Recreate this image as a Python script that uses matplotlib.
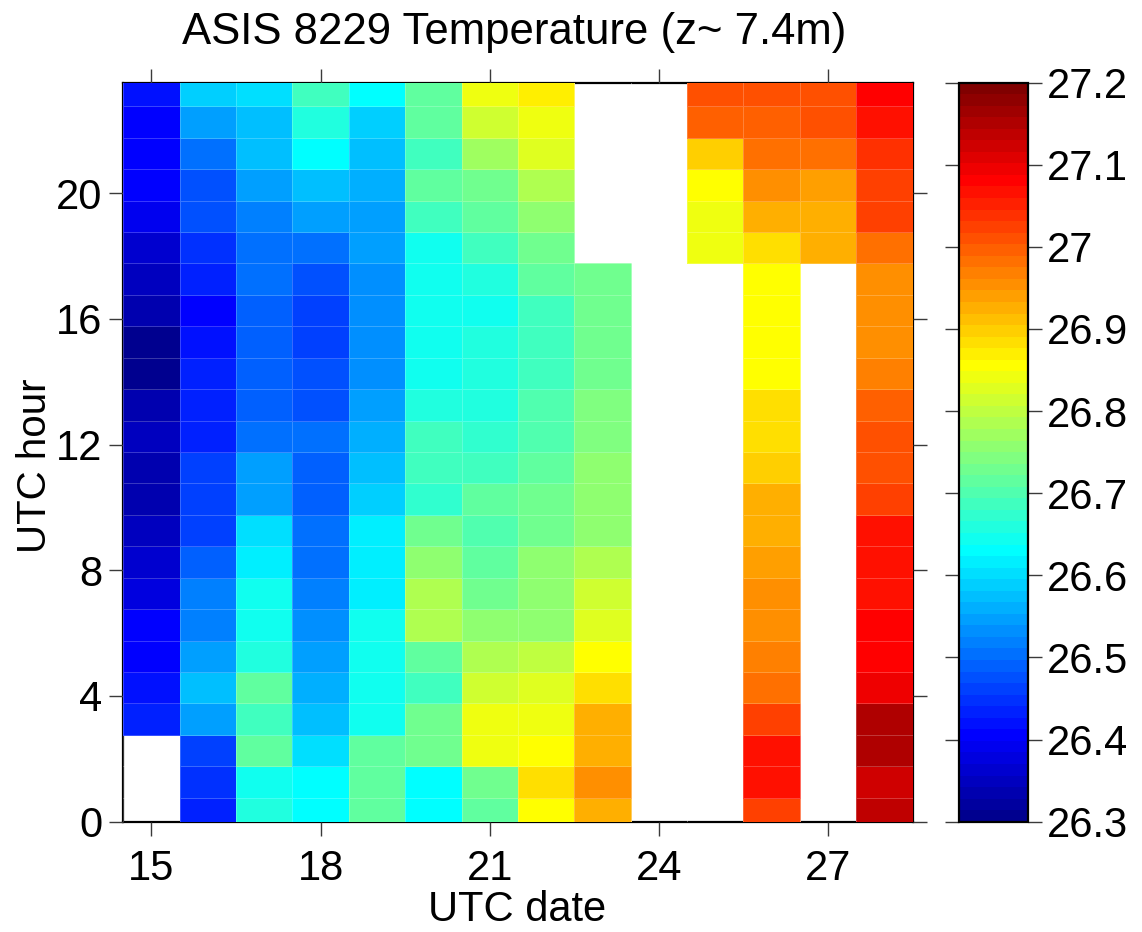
import numpy as np
import matplotlib
matplotlib.use("Agg")
import matplotlib.pyplot as plt
from matplotlib.colors import ListedColormap
from matplotlib.ticker import FuncFormatter

plt.rcParams['font.family'] = ['Liberation Sans', 'DejaVu Sans']

nan = np.nan
days = [15, 16, 17, 18, 19, 20, 21, 22, 23, 24, 25, 26, 27, 28]
hours = [h + 0.265 for h in range(24)]  # cell centres (hour 0..23)

# temperature per day, hour 0 .. 23
day15 = [nan, nan, nan, 26.43, 26.42, 26.41, 26.40, 26.38, 26.37, 26.345, 26.335, 26.34,
         26.35, 26.33, 26.30, 26.31, 26.33, 26.355, 26.365, 26.385, 26.40, 26.40, 26.41, 26.42]
day16 = [26.43, 26.45, 26.46, 26.55, 26.58, 26.55, 26.52, 26.52, 26.49, 26.46, 26.46, 26.46,
         26.44, 26.44, 26.43, 26.425, 26.41, 26.44, 26.45, 26.47, 26.48, 26.50, 26.54, 26.59]
day17 = [26.66, 26.64, 26.72, 26.69, 26.71, 26.66, 26.65, 26.64, 26.61, 26.60, 26.55, 26.54,
         26.51, 26.49, 26.49, 26.49, 26.49, 26.51, 26.51, 26.52, 26.54, 26.57, 26.58, 26.60]
day18 = [26.625, 26.625, 26.60, 26.58, 26.56, 26.55, 26.53, 26.52, 26.50, 26.50, 26.49, 26.49,
         26.50, 26.48, 26.48, 26.46, 26.46, 26.48, 26.50, 26.54, 26.58, 26.625, 26.66, 26.69]
day19 = [26.71, 26.72, 26.71, 26.65, 26.65, 26.65, 26.64, 26.62, 26.61, 26.61, 26.595, 26.58,
         26.56, 26.54, 26.53, 26.53, 26.53, 26.53, 26.545, 26.54, 26.56, 26.58, 26.595, 26.625]
day20 = [26.625, 26.625, 26.73, 26.73, 26.69, 26.72, 26.78, 26.78, 26.75, 26.73, 26.67, 26.69,
         26.68, 26.66, 26.65, 26.64, 26.64, 26.65, 26.65, 26.68, 26.71, 26.69, 26.71, 26.71]
day21 = [26.72, 26.73, 26.84, 26.84, 26.81, 26.78, 26.75, 26.73, 26.72, 26.70, 26.71, 26.68,
         26.67, 26.66, 26.66, 26.66, 26.65, 26.66, 26.69, 26.72, 26.73, 26.77, 26.81, 26.84]
day22 = [26.86, 26.88, 26.86, 26.84, 26.83, 26.80, 26.76, 26.76, 26.75, 26.73, 26.73, 26.72,
         26.70, 26.70, 26.69, 26.69, 26.69, 26.71, 26.73, 26.75, 26.78, 26.83, 26.84, 26.875]
day23 = [26.92, 26.95, 26.93, 26.92, 26.89, 26.86, 26.83, 26.81, 26.79, 26.76, 26.76, 26.76,
         26.74, 26.74, 26.73, 26.73, 26.73, 26.73, nan, nan, nan, nan, nan, nan]
day24 = [nan] * 24
day25 = [nan] * 18 + [26.845, 26.845, 26.86, 26.90, 26.99, 27.01]
day26 = [27.03, 27.06, 27.06, 27.03, 26.98, 26.97, 26.95, 26.95, 26.94, 26.93, 26.92, 26.90,
         26.89, 26.88, 26.86, 26.86, 26.86, 26.86, 26.88, 26.93, 26.95, 26.98, 26.99, 27.01]
day27 = [nan] * 18 + [26.92, 26.93, 26.945, 26.975, 27.01, 27.01]
day28 = [27.135, 27.12, 27.15, 27.15, 27.095, 27.08, 27.08, 27.06, 27.06, 27.06, 27.03, 27.01,
         27.01, 26.99, 26.97, 26.96, 26.95, 26.96, 26.98, 27.02, 27.03, 27.04, 27.065, 27.08]

columns = [day15, day16, day17, day18, day19, day20, day21, day22, day23, day24,
           day25, day26, day27, day28]
Z = np.ma.masked_invalid(np.array(columns, dtype=float).T)  # shape (24 hours, 14 days)

xticks = [15, 18, 21, 24, 27]
yticks = [0, 4, 8, 12, 16, 20]
cticks = [26.3, 26.4, 26.5, 26.6, 26.7, 26.8, 26.9, 27.0, 27.1, 27.2]
vmin, vmax = 26.3, 27.2


def matlab_jet(m=64):
    n = int(np.ceil(m / 4))
    u = np.concatenate([np.arange(1, n + 1) / n, np.ones(n - 1), np.arange(n, 0, -1) / n])
    g = int(np.ceil(n / 2)) - (1 if m % 4 == 1 else 0) + np.arange(1, len(u) + 1)
    r = g + n
    b = g - n
    g = g[g <= m]
    r = r[r <= m]
    b = b[b >= 1]
    J = np.zeros((m, 3))
    J[r - 1, 0] = u[:len(r)]
    J[g - 1, 1] = u[:len(g)]
    J[b - 1, 2] = u[len(u) - len(b):]
    return ListedColormap(J)


d = np.array(days, dtype=float)
h = np.array(hours, dtype=float)
xedges = np.concatenate([d - 0.5, [d[-1] + 0.5]])
yedges = np.concatenate([h - 0.5, [h[-1] + 0.5]])

W, H = 1142, 932
fig = plt.figure(figsize=(W / 100, H / 100), dpi=100)
ax = fig.add_axes([123.3 / W, 1 - 821.7 / H, (912.6 - 123.3) / W, (821.7 - 82.5) / H])
cax = fig.add_axes([959 / W, 1 - 821.7 / H, (1027.5 - 959) / W, (821.7 - 82.5) / H])

cmap = matlab_jet(64)
mesh = ax.pcolormesh(xedges, yedges, Z, cmap=cmap, vmin=vmin, vmax=vmax,
                     edgecolors=(1, 1, 1, 0.22), linewidth=0.6, zorder=3)

ax.set_xlim(14.5, 28.5)
ax.set_ylim(0, 23.52)
ax.set_xticks(xticks)
ax.set_yticks(yticks)
ax.tick_params(direction='out', length=10, width=1.0, color='#3a3a3a',
               labelsize=30, top=True, right=True, labeltop=False, labelright=False)
ax.tick_params(axis='x', pad=10)
ax.tick_params(axis='y', pad=5)
for s in ax.spines.values():
    s.set_linewidth(1.6)
    s.set_color('black')
    s.set_zorder(1)

cb = fig.colorbar(mesh, cax=cax, ticks=cticks)
cb.ax.yaxis.set_major_formatter(FuncFormatter(lambda v, p: '%g' % round(v, 2)))
cax.tick_params(direction='out', length=10, width=1.0, color='#3a3a3a',
                labelsize=30, left=True, right=True, pad=4)
cb.outline.set_linewidth(1.6)

fig.text(514 / W, 1 - 44 / H, 'ASIS 8229 Temperature (z~ 7.4m)', ha='center',
         va='baseline', fontsize=31.5)
fig.text(517.5 / W, 1 - 921 / H, 'UTC date', ha='center', va='baseline', fontsize=30)
fig.text(35 / W, 1 - 466 / H, 'UTC hour', ha='center', va='center', rotation=90, fontsize=29)

fig.savefig('out.png', dpi=100)
